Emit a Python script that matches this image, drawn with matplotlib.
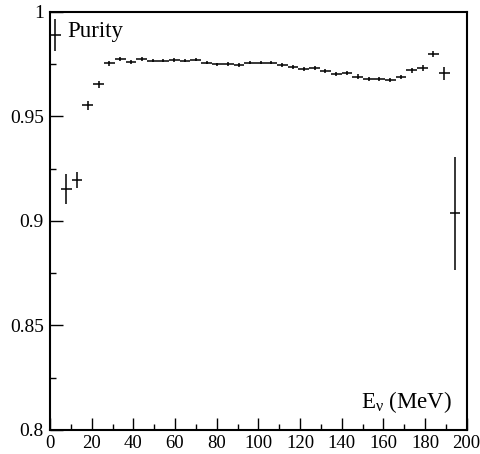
import numpy as np
import matplotlib
matplotlib.use("Agg")
import matplotlib.pyplot as plt
from matplotlib.ticker import MultipleLocator, FixedFormatter, FixedLocator

plt.rcParams["font.family"] = ["Liberation Serif", "DejaVu Serif"]
plt.rcParams["mathtext.fontset"] = "custom"
plt.rcParams["mathtext.rm"] = "Liberation Serif"
plt.rcParams["mathtext.it"] = "Liberation Serif:italic"

# purity per energy bin (bin width ~5.18 MeV, 38 bins)
bin_width = 197.0 / 38
purity = [
    0.989, 0.9153, 0.9196, 0.9553, 0.9654, 0.9755, 0.9777, 0.9761,
    0.9775, 0.9767, 0.9767, 0.9770, 0.9767, 0.9772, 0.9757, 0.9750,
    0.9751, 0.9746, 0.9757, 0.9757, 0.9758, 0.9746, 0.9737, 0.9727,
    0.9733, 0.9719, 0.9705, 0.9708, 0.9691, 0.9679, 0.9681, 0.9676,
    0.9689, 0.9722, 0.9732, 0.9799, 0.9707, 0.9037,
]
purity_err = [
    0.0078, 0.0072, 0.0040, 0.0022, 0.0016, 0.0012, 0.0010, 0.0009,
    0.0009, 0.0008, 0.0008, 0.0008, 0.0008, 0.0008, 0.0008, 0.0008,
    0.0008, 0.0008, 0.0008, 0.0008, 0.0008, 0.0008, 0.0008, 0.0008,
    0.0009, 0.0009, 0.0009, 0.0009, 0.0010, 0.0010, 0.0010, 0.0010,
    0.0011, 0.0012, 0.0013, 0.0014, 0.0032, 0.0270,
]

centers = (np.arange(len(purity)) + 0.5) * bin_width

fig = plt.figure(figsize=(4.81, 4.54), dpi=100)
ax = fig.add_axes([0.104, 0.0529, 0.8662, 0.9207])

ax.errorbar(centers, purity, yerr=purity_err, xerr=bin_width / 2,
            fmt="none", ecolor="black", elinewidth=1.1, capsize=0)

ax.set_xlim(0, 200)
ax.set_ylim(0.8, 1.0)

ax.xaxis.set_major_locator(MultipleLocator(20))
ax.xaxis.set_minor_locator(MultipleLocator(10))
ax.yaxis.set_major_locator(FixedLocator([0.8, 0.85, 0.9, 0.95, 1.0]))
ax.yaxis.set_major_formatter(FixedFormatter(["0.8", "0.85", "0.9", "0.95", "1"]))
ax.yaxis.set_minor_locator(MultipleLocator(0.025))

ax.tick_params(which="both", direction="in", top=False, right=False,
               labelsize=14, width=1.0)
ax.tick_params(axis="x", labelsize=13.5)
ax.tick_params(which="major", length=9)
ax.tick_params(which="minor", length=4.5)
ax.tick_params(axis="x", pad=3.5)
ax.tick_params(axis="y", pad=4.5)

for s in ax.spines.values():
    s.set_linewidth(1.5)

ax.text(0.964, 0.0526, r"E$_{\mathrm{ν}}$ (MeV)", transform=ax.transAxes,
        fontsize=16.5, ha="right", va="baseline")

ax.text(0.041, 0.94, "Purity", transform=ax.transAxes, fontsize=16.5,
        ha="left", va="baseline")

fig.savefig("out.png", dpi=100)
